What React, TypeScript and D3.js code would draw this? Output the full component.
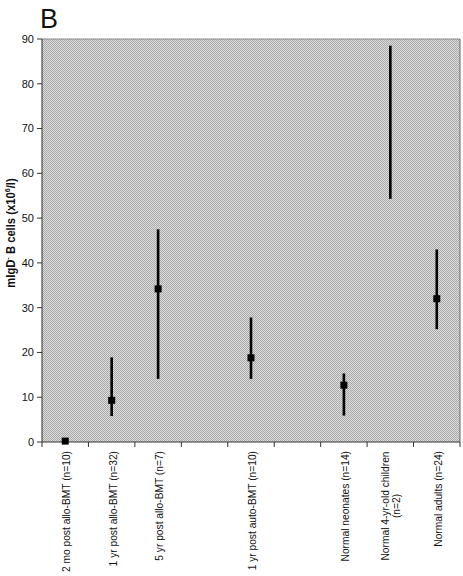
import React from "react";
import * as d3 from "d3";

const categories: string[][] = [
  ["2 mo post allo-BMT (n=10)"],
  ["1 yr post allo-BMT (n=32)"],
  ["5 yr post allo-BMT (n=7)"],
  [],
  ["1 yr post auto-BMT (n=10)"],
  [],
  ["Normal neonates (n=14)"],
  ["Normal 4-yr-old children", "(n=2)"],
  ["Normal adults (n=24)"],
];
const medians: (number | null)[] = [0.2, 9.3, 34.2, null, 18.8, null, 12.7, null, 32.0];
const lows: (number | null)[] = [null, 5.8, 14.1, null, 14.1, null, 5.9, 54.3, 25.2];
const highs: (number | null)[] = [null, 18.9, 47.5, null, 27.8, null, 15.3, 88.5, 43.0];
const yTicks: number[] = [0, 10, 20, 30, 40, 50, 60, 70, 80, 90];

const W = 463;
const H = 576;
const left = 42;
const right = 460;
const top = 39;
const bottom = 442;
const font = "Arial, 'Liberation Sans', sans-serif";

export default function App() {
  const idx = categories.map((_, i) => String(i));
  const x = d3.scaleBand<string>().domain(idx).range([left, right]).paddingInner(0).paddingOuter(0);
  const y = d3.scaleLinear().domain([0, 90]).range([bottom, top]);
  const bw = x.bandwidth();
  const boundaries = d3.range(categories.length + 1).map((i) => left + i * bw);

  return (
    <svg width={W} height={H} style={{ position: "absolute", left: 0, top: 0, background: "#fff" }}>
      <defs>
        <pattern id="chk" width={2} height={2} patternUnits="userSpaceOnUse">
          <rect width={2} height={2} fill="#dedede" />
          <rect x={0} y={0} width={1} height={1} fill="#a8a8a8" />
          <rect x={1} y={1} width={1} height={1} fill="#a8a8a8" />
        </pattern>
      </defs>
      <text x={40} y={28} fontFamily={font} fontSize={27} fill="#111">B</text>
      <rect x={left} y={top} width={right - left} height={bottom - top} fill="url(#chk)" />
      {/* frame */}
      <line x1={left} x2={right} y1={top} y2={top} stroke="#888" strokeWidth={1} />
      <line x1={right} x2={right} y1={top} y2={bottom} stroke="#666" strokeWidth={1} />
      <line x1={left} x2={left} y1={top} y2={bottom} stroke="#333" strokeWidth={1} />
      <line x1={left} x2={right} y1={bottom} y2={bottom} stroke="#333" strokeWidth={1} />
      {/* y ticks */}
      {yTicks.map((t) => (
        <g key={t}>
          <line x1={left - 5} x2={left} y1={y(t)} y2={y(t)} stroke="#333" />
          <text x={34} y={y(t)} dy="0.35em" textAnchor="end" fontFamily={font} fontSize={11} fill="#111">
            {t}
          </text>
        </g>
      ))}
      {/* x ticks */}
      {boundaries.map((b, i) => (
        <line key={i} x1={b} x2={b} y1={bottom} y2={bottom + 5} stroke="#333" />
      ))}
      {/* y label */}
      <text
        transform={`translate(15,233) rotate(-90) scale(0.9,1)`}
        textAnchor="middle"
        fontFamily={font}
        fontSize={12.5}
        fontWeight="bold"
        fill="#111"
      >
        mIgD<tspan dy={-5} fontSize={8}>-</tspan>
        <tspan dy={5}> B cells (x10</tspan>
        <tspan dy={-5} fontSize={8}>6</tspan>
        <tspan dy={5}>/l)</tspan>
      </text>
      {/* category labels */}
      {categories.map((lines, i) => {
        if (lines.length === 0) return null;
        const cx = (x(String(i)) as number) + bw / 2;
        if (lines.length === 1) {
          return (
            <text
              key={i}
              transform={`translate(${cx + 5},451) rotate(-90) scale(0.93,1)`}
              textAnchor="end"
              fontFamily={font}
              fontSize={11}
              fill="#111"
            >
              {lines[0]}
            </text>
          );
        }
        return (
          <text
            key={i}
            transform={`translate(${cx - 1},506) rotate(-90) scale(0.93,1)`}
            textAnchor="middle"
            fontFamily={font}
            fontSize={11}
            fill="#111"
          >
            {lines.map((l, j) => (
              <tspan key={j} x={0} dy={j === 0 ? 0 : 11}>
                {l}
              </tspan>
            ))}
          </text>
        );
      })}
      {/* ranges */}
      {categories.map((_, i) => {
        const lo = lows[i];
        const hi = highs[i];
        if (lo === null || hi === null) return null;
        const cx = (x(String(i)) as number) + bw / 2;
        return <line key={i} x1={cx} x2={cx} y1={y(hi)} y2={y(lo)} stroke="#000" strokeWidth={2.6} />;
      })}
      {/* medians */}
      {categories.map((_, i) => {
        const m = medians[i];
        if (m === null) return null;
        const cx = (x(String(i)) as number) + bw / 2;
        return <rect key={i} x={cx - 3.5} y={y(m) - 3.5} width={7} height={7} fill="#000" />;
      })}
    </svg>
  );
}
